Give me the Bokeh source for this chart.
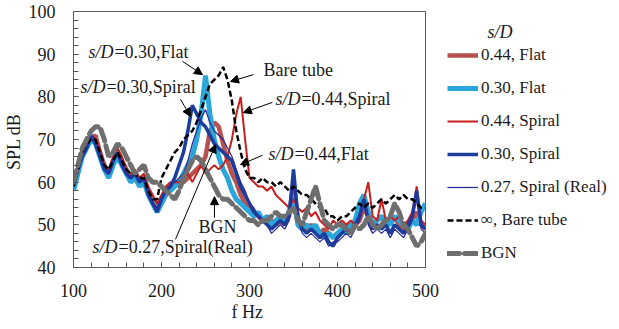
from bokeh.plotting import figure
from bokeh.models import Range1d, FixedTicker, Legend, LegendItem, Label, Arrow, NormalHead
from bokeh.embed import file_html
from bokeh.resources import INLINE

# ---------------- data ----------------
freq = list(range(100, 505, 5))  # Hz

spl_044_flat = [
    59, 63, 67, 69, 70, 71, 67, 64, 62, 65,
    67, 65, 63, 61, 62, 60, 61, 58, 56, 54,
    56, 58, 59, 60, 60, 60, 61, 62, 63, 64,
    66, 72, 74, 73, 69, 65, 62, 60, 57, 55,
    54, 53, 52, 51, 52, 51, 50, 51, 50, 52,
    60, 51, 50, 49, 50, 49, 48, 49, 48, 47,
    48, 49, 50, 49, 50, 51, 54, 52, 50, 51,
    52, 50, 51, 52, 50, 49, 50, 51, 53, 50,
    49]

spl_030_flat = [
    58, 62, 66, 68, 70, 69, 66, 63, 61, 64,
    66, 64, 62, 60, 61, 59, 60, 57, 55, 53,
    55, 57, 58, 59, 60, 62, 64, 66, 70, 76,
    85, 76, 70, 66, 63, 61, 58, 56, 55, 54,
    53, 52, 53, 51, 52, 50, 51, 52, 51, 53,
    57, 50, 49, 50, 49, 50, 48, 47, 48, 47,
    48, 49, 48, 50, 51, 55, 57, 53, 50, 51,
    52, 51, 50, 52, 51, 50, 49, 51, 50, 53,
    55]

spl_044_spiral = [
    60, 64, 67, 69, 71, 70, 68, 64, 63, 66,
    68, 66, 63, 62, 63, 61, 62, 59, 57, 55,
    57, 59, 60, 60, 60, 61, 62, 60, 62, 64,
    62, 63, 64, 63, 64, 66, 70, 76, 80, 70,
    61, 60, 59, 59, 58, 59, 57, 56, 55, 54,
    56, 54, 53, 54, 52, 53, 51, 50, 49, 51,
    50, 51, 50, 51, 50, 52, 56, 60, 52, 51,
    56, 51, 52, 51, 52, 50, 51, 53, 59, 51,
    50]

spl_030_spiral = [
    59, 63, 66, 68, 71, 69, 66, 63, 62, 65,
    67, 64, 62, 61, 62, 60, 61, 57, 55, 53,
    56, 58, 59, 61, 64, 67, 72, 78, 76, 74,
    73, 71, 69, 68, 67, 66, 65, 62, 59, 57,
    55, 53, 52, 51, 50, 49, 50, 51, 50, 52,
    63, 52, 49, 48, 49, 48, 47, 48, 46, 45,
    47, 48, 49, 48, 50, 52, 56, 51, 49, 50,
    49, 50, 48, 50, 49, 48, 50, 52, 58, 50,
    49]

spl_027_real = [
    59, 63, 66, 69, 71, 70, 67, 64, 62, 65,
    67, 65, 62, 61, 62, 60, 61, 58, 55, 54,
    56, 58, 59, 60, 61, 62, 65, 69, 72, 75,
    77, 74, 72, 71, 70, 68, 66, 63, 60, 58,
    55, 54, 52, 51, 50, 48, 49, 50, 49, 51,
    60, 51, 48, 47, 48, 47, 46, 47, 45, 46,
    46, 47, 48, 47, 49, 51, 55, 50, 48, 49,
    48, 49, 47, 49, 48, 47, 49, 51, 57, 49,
    48]

spl_bare = [
    59, 63, 67, 69, 70, 70, 67, 64, 63, 65,
    67, 65, 63, 62, 62, 61, 61, 58, 56, 56,
    61, 63, 65, 67, 68, 70, 71, 72, 74, 77,
    80, 83, 84, 85, 87, 84, 79, 72, 67, 63,
    61, 61, 60, 61, 60, 60, 59, 60, 59, 58,
    59, 58, 57, 57, 56, 55, 54, 54, 52, 52,
    51, 52, 52, 53, 54, 55, 54, 55, 54, 55,
    56, 55, 56, 57, 56, 57, 56, 56, 55, 54,
    54]

spl_bgn = [
    60, 64, 68, 70, 72, 73, 73, 70, 66, 67,
    69, 68, 66, 64, 62, 63, 64, 61, 60, 60,
    59, 58, 57, 56, 58, 61, 63, 65, 66, 65,
    63, 61, 59, 57, 56, 56, 55, 54, 53, 52,
    51, 51, 50, 51, 51, 52, 53, 52, 52, 53,
    54, 51, 50, 53, 56, 59, 55, 51, 50, 49,
    50, 50, 49, 48, 50, 49, 50, 52, 50, 49,
    50, 51, 52, 55, 53, 50, 49, 47, 45, 46,
    48]

x_ticks = [100, 200, 300, 400, 500]
y_ticks = [40, 50, 60, 70, 80, 90, 100]

series_labels = ["0.44, Flat", "0.30, Flat", "0.44, Spiral", "0.30, Spiral",
                 "0.27, Spiral (Real)", "\u221e, Bare tube", "BGN"]

# annotation texts: (italic part, normal part, f, dB)
notes = [
    ("s/D", "=0.30,Flat", 117, 90.6),
    ("s/D", "=0.30,Spiral", 108, 82.2),
    ("", "Bare tube", 316, 86.2),
    ("s/D", "=0.44,Spiral", 329.5, 79.4),
    ("s/D", "=0.44,Flat", 321.6, 66.5),
    ("", "BGN", 242, 49.6),
    ("s/D", "=0.27,Spiral(Real)", 121.6, 44.9),
]
arrows = [
    (223.9, 88.3, 246.6, 85.2),
    (221.6, 79.4, 233.0, 75.4),
    (304.5, 85.2, 278.4, 83.6),
    (326.0, 78.7, 293.0, 76.3),
    (314.8, 66.3, 289.8, 64.1),
    (260.2, 51.7, 260.2, 56.6),
    (215.9, 46.6, 261.4, 68.8),
]

# ---------------- figure ----------------
FONT = "Liberation Serif"
TXT = "#1a1a1a"
AX = "#595959"

p = figure(frame_width=352, frame_height=256, output_backend="svg", toolbar_location=None,
           x_range=Range1d(100, 500), y_range=Range1d(40, 100),
           min_border_left=65, min_border_right=186, min_border_top=19,
           min_border_bottom=60)
p.styles = {"margin-top": "-8px", "margin-bottom": "-20px"}
p.xgrid.visible = False
p.ygrid.visible = False
p.outline_line_color = AX
p.outline_line_alpha = 1
p.outline_line_width = 1
p.background_fill_color = "white"
p.border_fill_color = "white"

p.xaxis.ticker = FixedTicker(ticks=x_ticks, minor_ticks=list(range(100, 501, 20)))
p.yaxis.ticker = FixedTicker(ticks=y_ticks, minor_ticks=list(range(40, 101, 2)))
for ax in (p.xaxis, p.yaxis):
    ax.axis_line_color = AX
    ax.major_tick_line_color = AX
    ax.minor_tick_line_color = AX
    ax.major_tick_in = 5
    ax.major_tick_out = 0
    ax.minor_tick_in = 5
    ax.minor_tick_out = 0
    ax.major_label_text_font = FONT
    ax.major_label_text_font_size = "18px"
    ax.major_label_text_color = TXT
    ax.axis_label_text_font = FONT
    ax.axis_label_text_font_size = "18px"
    ax.axis_label_text_font_style = "normal"
    ax.axis_label_text_color = TXT
p.xaxis.major_label_standoff = 16
p.xaxis.axis_label = "f  Hz"
p.xaxis.axis_label_standoff = 2
p.yaxis.major_label_standoff = 18
p.yaxis.axis_label = "SPL  dB"
p.yaxis.axis_label_standoff = 2

styles = [
    dict(line_color="#B5514E", line_width=4.5),
    dict(line_color="#2BA6DA", line_width=5),
    dict(line_color="#C81E1E", line_width=2),
    dict(line_color="#1C3D9C", line_width=3.5),
    dict(line_color="#2A2F9A", line_width=1.3),
    dict(line_color="black", line_width=2.5, line_dash="6 3"),
    dict(line_color="#6E6E6E", line_width=5, line_dash="12 5", line_cap="round"),
]
data = [spl_044_flat, spl_030_flat, spl_044_spiral, spl_030_spiral,
        spl_027_real, spl_bare, spl_bgn]

items = []
for lab, ys, st in zip(series_labels, data, styles):
    r = p.line(freq, ys, **st)
    items.append(LegendItem(label=lab, renderers=[r]))

legend = Legend(items=items, location=(22, 4), padding=0, margin=0,
                spacing=13, glyph_width=31, glyph_height=20, label_height=20,
                label_standoff=3, label_text_font=FONT, label_text_font_size="17px",
                label_text_color=TXT, background_fill_alpha=0, border_line_alpha=0,
                title="\u00a0" * 9 + "s/D", title_text_font=FONT,
                title_text_font_size="18px", title_text_font_style="italic",
                title_text_color=TXT, title_standoff=2)
p.add_layout(legend, "right")

for it, rest, fx, fy in notes:
    if it:
        p.add_layout(Label(x=fx, y=fy, text=it, text_font=FONT, text_font_size="18px",
                           text_font_style="italic", text_baseline="middle",
                           text_color=TXT))
    p.add_layout(Label(x=fx, y=fy, text=rest, x_offset=26 if it else 0,
                       text_font=FONT, text_font_size="18px",
                       text_baseline="middle", text_color=TXT))

for xs, ys, xe, ye in arrows:
    p.add_layout(Arrow(x_start=xs, y_start=ys, x_end=xe, y_end=ye, line_width=1,
                       line_color="black",
                       end=NormalHead(size=8, fill_color="black", line_color="black")))

open("out.html", "w").write(file_html(p, INLINE))
